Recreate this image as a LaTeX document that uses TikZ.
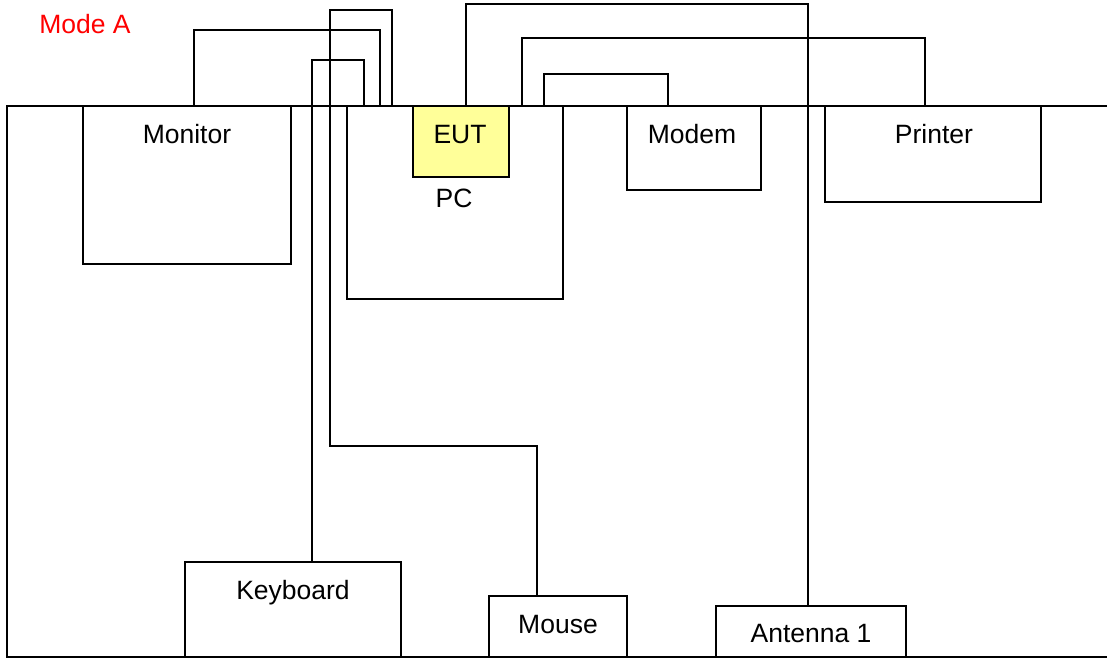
\documentclass[tikz,border=0pt]{standalone}
\usepackage{fontspec}
\setmainfont{Liberation Sans}
\definecolor{eutfill}{HTML}{FFFF99}
\definecolor{modered}{HTML}{FF0000}
\begin{document}
\begin{tikzpicture}[x=1pt,y=-1pt,line width=1.6pt,
  box/.style={draw=black,inner sep=0pt,outer sep=0pt,anchor=north west},
  lbl/.style={font=\fontsize{26.5}{30}\selectfont,anchor=base,inner sep=0pt},
  cable/.style={draw=black,line join=miter}]
\useasboundingbox (0,0) rectangle (1107,658);
% outline of the table
\draw (1107,106) -- (7,106) -- (7,657) -- (1107,657);
% boxes
\node[box,minimum width=208pt,minimum height=158pt] (monitor) at (83,106) {};
\node[box,minimum width=216pt,minimum height=193pt] (pc) at (347,106) {};
\node[box,fill=eutfill,minimum width=96pt,minimum height=71pt] (eut) at (413,106) {};
\node[box,minimum width=134pt,minimum height=84pt] (modem) at (627,106) {};
\node[box,minimum width=216pt,minimum height=96pt] (printer) at (825,106) {};
\node[box,minimum width=216pt,minimum height=95pt] (keyboard) at (185,562) {};
\node[box,minimum width=138pt,minimum height=61pt] (mouse) at (489,596) {};
\node[box,minimum width=190pt,minimum height=51pt] (antenna) at (716,606) {};
% labels
\node[lbl,text=modered] (modeA) at (85,34) {Mode A};
\node[lbl] (lmonitor) at (187,143) {Monitor};
\node[lbl] (leut) at (460,143) {EUT};
\node[lbl] (lpc) at (454,207) {PC};
\node[lbl] (lmodem) at (692,143) {Modem};
\node[lbl] (lprinter) at (934,143) {Printer};
\node[lbl] (lkeyboard) at (293,599) {Keyboard};
\node[lbl] (lmouse) at (558,633) {Mouse};
\node[lbl] (lantenna) at (811,642) {Antenna 1};
% cables
\draw[cable] ([xshift=111pt]monitor.north west) -- ++(0,-76) -| ([xshift=33pt]pc.north west);
\draw[cable] ([xshift=127pt]keyboard.north west) -- ++(0,-502) -| ([xshift=17pt]pc.north west);
\draw[cable] ([xshift=48pt]mouse.north west) -- ++(0,-150) -- ++(-207,0) -- ++(0,-436) -| ([xshift=45pt]pc.north west);
\draw[cable] ([xshift=92pt]antenna.north west) -- ++(0,-602) -| ([xshift=53pt]eut.north west);
\draw[cable] ([xshift=100pt]printer.north west) -- ++(0,-68) -| ([xshift=175pt]pc.north west);
\draw[cable] ([xshift=41pt]modem.north west) -- ++(0,-32) -| ([xshift=197pt]pc.north west);
\end{tikzpicture}
\end{document}
